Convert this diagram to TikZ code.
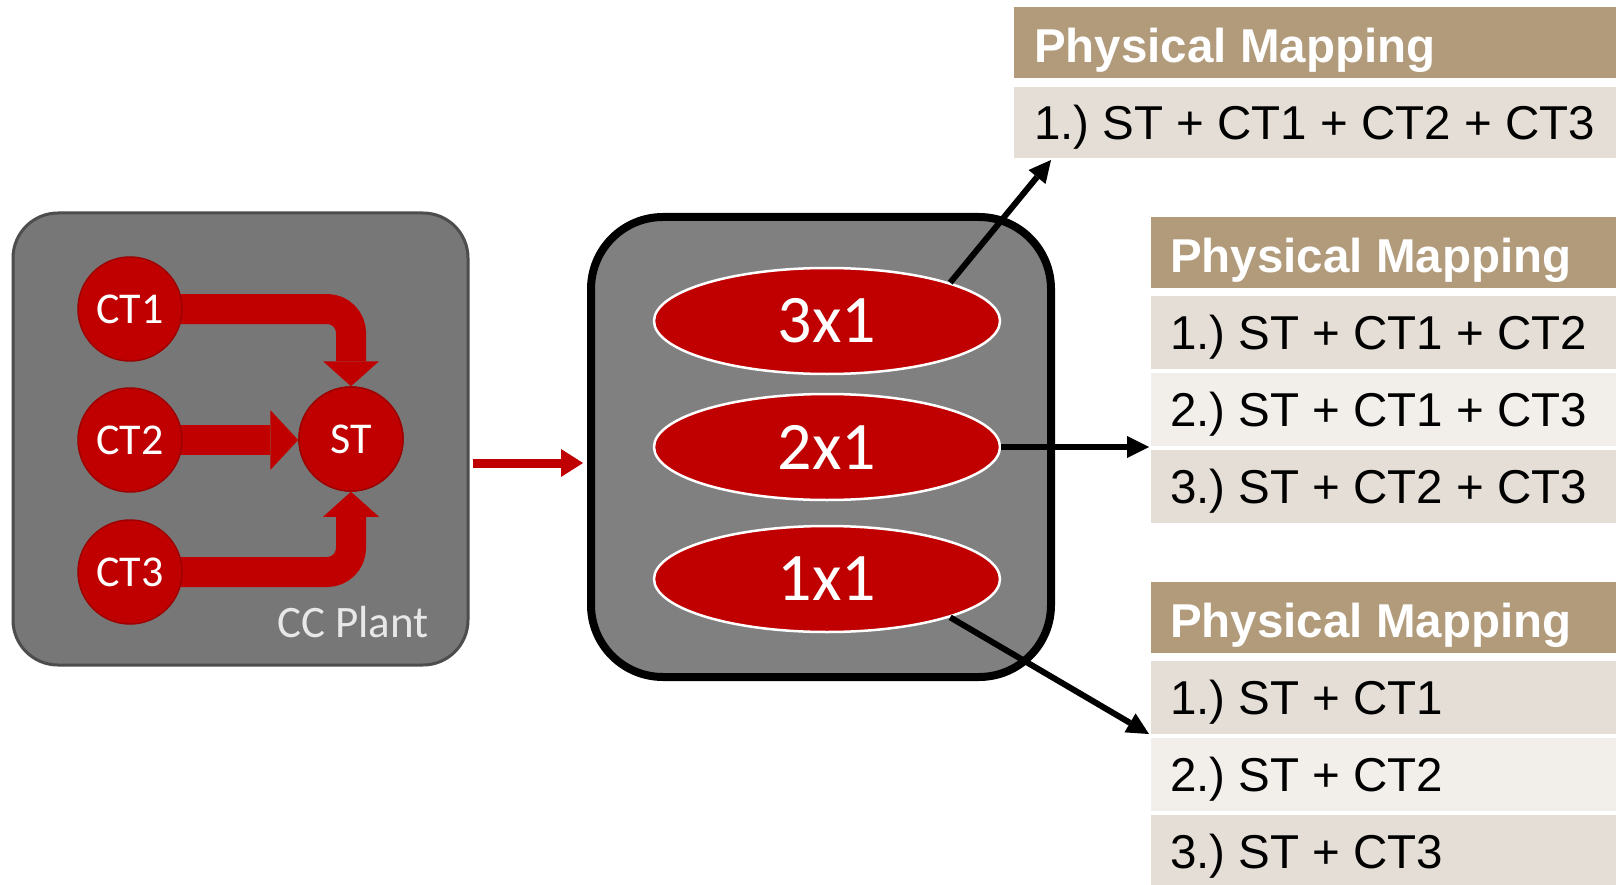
\documentclass[tikz,border=0pt]{standalone}
\usepackage{fontspec}
\setmainfont{Liberation Sans}
\newfontfamily\calib{Carlito}
\usetikzlibrary{arrows.meta,shapes.geometric,calc}
\definecolor{plantgray}{HTML}{777777}
\definecolor{plantedge}{HTML}{4D4D4D}
\definecolor{boxgray}{HTML}{808080}
\definecolor{cred}{HTML}{C00000}
\definecolor{credge}{HTML}{9E0000}
\definecolor{hdrcol}{HTML}{B19B7B}
\definecolor{rowa}{HTML}{E4DED6}
\definecolor{rowb}{HTML}{F2EFEB}
\definecolor{plantlbl}{HTML}{E8E8E8}
\frenchspacing
\begin{document}
\begin{tikzpicture}[x=1pt,y=-1pt,
  plantbox/.style={draw=plantedge, line width=3pt, fill=plantgray, rounded corners=45pt,
    minimum width=455pt, minimum height=452pt, inner sep=0pt},
  midbox/.style={draw=black, line width=8pt, fill=boxgray, rounded corners=72pt,
    minimum width=460pt, minimum height=460pt, inner sep=0pt},
  ctnode/.style={circle, fill=cred, draw=credge, line width=1.5pt, minimum size=104pt,
    inner sep=0pt, text=white, font=\calib\fontsize{44}{46}\selectfont},
  band/.style={draw=cred, line width=30pt},
  bandtip/.style={-{Triangle[length=25pt,width=56pt,line width=0pt]}},
  ell/.style={ellipse, fill=cred, draw=white, line width=2.5pt, minimum width=346pt,
    minimum height=106pt, inner sep=0pt, text=white, font=\calib\fontsize{68}{70}\selectfont},
  conn/.style={draw=black, line width=6pt, -{Triangle[length=22pt,width=22pt,line width=0pt]}},
  redconn/.style={draw=cred, line width=9pt, -{Triangle[length=22pt,width=28pt,line width=0pt]}},
  hdrbox/.style={rectangle, fill=hdrcol, inner sep=0pt, anchor=north west, minimum height=71pt},
  rowboxa/.style={rectangle, fill=rowa, inner sep=0pt, anchor=north west, minimum height=73pt},
  rowboxb/.style={rectangle, fill=rowb, inner sep=0pt, anchor=north west, minimum height=73pt},
  hdrtxt/.style={anchor=base west, inner sep=0pt, text=white, font=\bfseries\fontsize{47.5}{50}\selectfont},
  rowtxt/.style={anchor=base west, inner sep=0pt, text=black, font=\fontsize{47.5}{50}\selectfont}
]
\useasboundingbox[fill=white] (0,0) rectangle (1616,885);

% ---------- CC plant ----------
\node[plantbox] (plant) at (240.5,439) {};
\coordinate (ct1p) at (130,309);
\coordinate (ct2p) at (130,440);
\coordinate (ct3p) at (130,572);
\coordinate (stp) at (351,439);
\node[ctnode] (st) at (stp) {ST};
\draw[band, bandtip, rounded corners=24pt] (ct1p) -| (st.north);
\draw[band, -{Triangle[length=28pt,width=60pt,line width=0pt]}] (ct2p) -- (ct2p -| st.west);
\draw[band, bandtip, rounded corners=24pt] (ct3p) -| (st.south);
\node[ctnode] (ct1) at (ct1p) {CT1};
\node[ctnode] (ct2) at (ct2p) {CT2};
\node[ctnode] (ct3) at (ct3p) {CT3};
\node[ctnode] at (stp) {ST};
\node[anchor=base, inner sep=0pt, text=plantlbl, font=\calib\fontsize{45}{47}\selectfont] (ccl) at (353,637) {CC Plant};

% ---------- middle box ----------
\node[midbox] (mid) at (821,447) {};
\node[ell] (e3) at (827,321) {3x1};
\node[ell] (e2) at (827,447) {2x1};
\node[ell] (e1) at (827,579) {1x1};

\draw[redconn] ($(plant.east)+(3,24)$) -- ($(mid.west |- plant.east)+(-4,24)$);

% ---------- tables ----------
% top
\node[hdrbox, minimum width=606pt] (h1) at (1014,7) {};
\node[rowboxa, minimum width=606pt, minimum height=71pt] (r11) at (1014,87) {};
\node[hdrtxt] (ht1) at ($(h1.south west)+(20,-16)$) {Physical Mapping};
\node[rowtxt] (tt11) at ($(r11.south west)+(20,-19)$) {1.) ST + CT1 + CT2 + CT3};
% middle
\node[hdrbox, minimum width=470pt] (h2) at (1151,217) {};
\node[rowboxa, minimum width=470pt] (r21) at (1151,296) {};
\node[rowboxb, minimum width=470pt] (r22) at (1151,373) {};
\node[rowboxa, minimum width=470pt] (r23) at (1151,450) {};
\node[hdrtxt] (ht2) at ($(h2.south west)+(19,-16)$) {Physical Mapping};
\node[rowtxt] (tt21) at ($(r21.south west)+(19,-20)$) {1.) ST + CT1 + CT2};
\node[rowtxt] (tt22) at ($(r22.south west)+(19,-20)$) {2.) ST + CT1 + CT3};
\node[rowtxt] (tt23) at ($(r23.south west)+(19,-20)$) {3.) ST + CT2 + CT3};
% bottom
\node[hdrbox, minimum width=470pt] (h3) at (1151,582) {};
\node[rowboxa, minimum width=470pt] (r31) at (1151,661) {};
\node[rowboxb, minimum width=470pt] (r32) at (1151,738) {};
\node[rowboxa, minimum width=470pt] (r33) at (1151,815) {};
\node[hdrtxt] (ht3) at ($(h3.south west)+(19,-16)$) {Physical Mapping};
\node[rowtxt] (tt31) at ($(r31.south west)+(19,-20)$) {1.) ST + CT1};
\node[rowtxt] (tt32) at ($(r32.south west)+(19,-20)$) {2.) ST + CT2};
\node[rowtxt] (tt33) at ($(r33.south west)+(19,-20)$) {3.) ST + CT3};

% ---------- connectors ----------
\coordinate (a1) at (1051,160);
\coordinate (a2) at (1149,447);
\coordinate (a3) at (1149,734);
\draw[conn] (e3.north east) -- (a1);
\draw[conn] (e2.east) -- (a2);
\draw[conn] (e1.south east) -- (a3);
\end{tikzpicture}
\end{document}
